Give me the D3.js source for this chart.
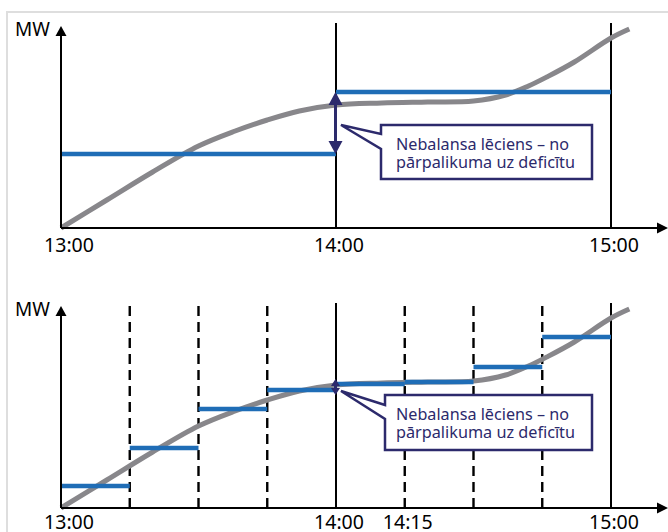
<!DOCTYPE html>
<html>
<head>
<meta charset="utf-8">
<script src="https://cdn.jsdelivr.net/npm/d3@7/dist/d3.min.js"></script>
<style>
  html, body { margin: 0; padding: 0; background: #fff; }
  svg { display: block; font-family: "Noto Sans", "Open Sans", sans-serif; }
</style>
</head>
<body>
<svg id="chart" width="668" height="532"></svg>
<script>
// minutes after 13:00 / MW (relative units)
var curveMin = [0, 10, 20, 30, 38, 45, 52, 60, 70, 80, 90, 97, 102, 106, 112, 120, 124];
var curveMW  = [0, 28, 56, 82, 97, 108, 117, 123, 125, 126, 127, 133, 142, 151, 166, 190, 199];

var hourStart = [0, 60];
var hourMW    = [74, 136];

var quarterStart = [0, 15, 30, 45, 60, 75, 90, 105];
var quarterMW    = [22, 60, 99, 118, 124, 126, 141, 171];

var topTicks = [0, 60, 120];
var topTickLabels = ["13:00", "14:00", "15:00"];
var bottomTicks = [0, 60, 75, 120];
var bottomTickLabels = ["13:00", "14:00", "14:15", "15:00"];

var solidLines  = [60, 120];
var dashedLines = [15, 30, 45, 75, 90, 105];

var calloutLines = ["Nebalansa lēciens – no", "pārpalikuma uz deficītu"];
var calloutWidths = [173, 179];
var yLabel = "MW";

var BLUE = "#1f6db6", GRAY = "#88878b", NAVY = "#2c2a6c";

var svg = d3.select("#chart");

// light frame
svg.append("path")
	.attr("d", "M7,532 L7,12 L668,12")
	.attr("fill", "none")
	.attr("stroke", "#dedede")
	.attr("stroke-width", 2);

var x = d3.scaleLinear().domain([0, 120]).range([61, 611]);

function drawPanel(cfg)
{
	var y = d3.scaleLinear().domain([0, 200]).range([cfg.axisY, cfg.axisY - 200]);
	var g = svg.append("g");

	// dashed quarter lines
	g.selectAll(".dash").data(cfg.dashed).enter().append("line")
		.attr("x1", function (d) { return x(d); })
		.attr("x2", function (d) { return x(d); })
		.attr("y1", cfg.axisY)
		.attr("y2", cfg.axisY - 205)
		.attr("stroke", "#000")
		.attr("stroke-width", 2.4)
		.attr("stroke-dasharray", "10,6");

	// solid hour lines
	g.selectAll(".solid").data(solidLines).enter().append("line")
		.attr("x1", function (d) { return x(d); })
		.attr("x2", function (d) { return x(d); })
		.attr("y1", cfg.axisY)
		.attr("y2", cfg.axisY - 205)
		.attr("stroke", "#000")
		.attr("stroke-width", 2);

	// consumption curve
	var line = d3.line()
		.x(function (d, i) { return x(curveMin[i]); })
		.y(function (d) { return y(d); })
		.curve(d3.curveCatmullRom);
	g.append("path")
		.datum(curveMW)
		.attr("d", line)
		.attr("fill", "none")
		.attr("stroke", GRAY)
		.attr("stroke-width", 5);

	// blue steps
	g.selectAll(".step").data(cfg.stepMW).enter().append("line")
		.attr("x1", function (d, i) { return x(cfg.stepStart[i]); })
		.attr("x2", function (d, i) { return x(cfg.stepStart[i] + cfg.stepLen); })
		.attr("y1", function (d) { return y(d); })
		.attr("y2", function (d) { return y(d); })
		.attr("stroke", BLUE)
		.attr("stroke-width", 4.5);

	// axes
	var axisTop = cfg.axisY - 202;
	g.append("line")
		.attr("x1", x(0)).attr("x2", x(0))
		.attr("y1", cfg.axisY).attr("y2", axisTop + 8)
		.attr("stroke", "#000").attr("stroke-width", 2);
	g.append("path")
		.attr("d", "M" + x(0) + "," + axisTop + " l5.5,10 l-11,0 z")
		.attr("fill", "#000");
	g.append("line")
		.attr("x1", x(0)).attr("x2", 659)
		.attr("y1", cfg.axisY).attr("y2", cfg.axisY)
		.attr("stroke", "#000").attr("stroke-width", 2);
	g.append("path")
		.attr("d", "M668," + cfg.axisY + " l-11,-5.5 l0,11 z")
		.attr("fill", "#000");

	g.append("text")
		.attr("x", 15)
		.attr("y", axisTop + 10)
		.attr("font-size", 19)
		.text(yLabel);

	g.selectAll(".tick").data(cfg.ticks).enter().append("text")
		.attr("x", function (d, i) { return x(d) + (i === 0 ? 8 : 3); })
		.attr("y", cfg.labelY)
		.attr("text-anchor", "middle")
		.attr("font-size", 19.5)
		.text(function (d, i) { return cfg.tickLabels[i]; });

	// imbalance jump arrow at 14:00
	var lo = y(cfg.jump[0]), hi = y(cfg.jump[1]);
	var mid = (lo + hi) / 2;
	if (lo - hi < 16) { lo = mid + 8; hi = mid - 8; }
	var hw = cfg.headW / 2, hh = cfg.headH, ax = x(60) - 0.5;
	g.append("line")
		.attr("x1", ax).attr("x2", ax)
		.attr("y1", hi + hh - 1).attr("y2", lo - hh + 1)
		.attr("stroke", NAVY).attr("stroke-width", 3);
	g.append("path")
		.attr("d", "M" + ax + "," + hi + " l" + hw + "," + hh + " l" + (-2 * hw) + ",0 z" +
			"M" + ax + "," + lo + " l" + hw + "," + (-hh) + " l" + (-2 * hw) + ",0 z")
		.attr("fill", NAVY);

	// callout box with pointer
	var b = cfg.box;
	g.append("path")
		.attr("d", "M" + b.x0 + "," + b.y0 + " L" + b.x1 + "," + b.y0 + " L" + b.x1 + "," + b.y1 +
			" L" + b.x0 + "," + b.y1 + " L" + b.x0 + "," + b.p1 + " L" + b.tx + "," + b.ty +
			" L" + b.x0 + "," + b.p0 + " Z")
		.attr("fill", "#fff")
		.attr("stroke", NAVY)
		.attr("stroke-width", 2.5);

	g.selectAll(".callout").data(calloutLines).enter().append("text")
		.attr("x", 396)
		.attr("y", function (d, i) { return b.y0 + 25 + i * 18; })
		.attr("font-size", 16)
		.attr("fill", NAVY)
		.attr("textLength", function (d, i) { return calloutWidths[i]; })
		.attr("lengthAdjust", "spacingAndGlyphs")
		.text(function (d) { return d; });
}

drawPanel({
	axisY: 228,
	labelY: 252,
	dashed: [],
	stepStart: hourStart,
	stepMW: hourMW,
	stepLen: 60,
	ticks: topTicks,
	tickLabels: topTickLabels,
	jump: [hourMW[0], hourMW[1]],
	headW: 14, headH: 13,
	box: { x0: 381, x1: 592, y0: 125, y1: 179, tx: 341, ty: 125, p0: 134, p1: 149 }
});

drawPanel({
	axisY: 508,
	labelY: 529,
	dashed: dashedLines,
	stepStart: quarterStart,
	stepMW: quarterMW,
	stepLen: 15,
	ticks: bottomTicks,
	tickLabels: bottomTickLabels,
	jump: [quarterMW[3], quarterMW[4]],
	headW: 9, headH: 7,
	box: { x0: 385, x1: 592, y0: 395, y1: 450, tx: 341, ty: 391, p0: 405, p1: 419 }
});
</script>
</body>
</html>
